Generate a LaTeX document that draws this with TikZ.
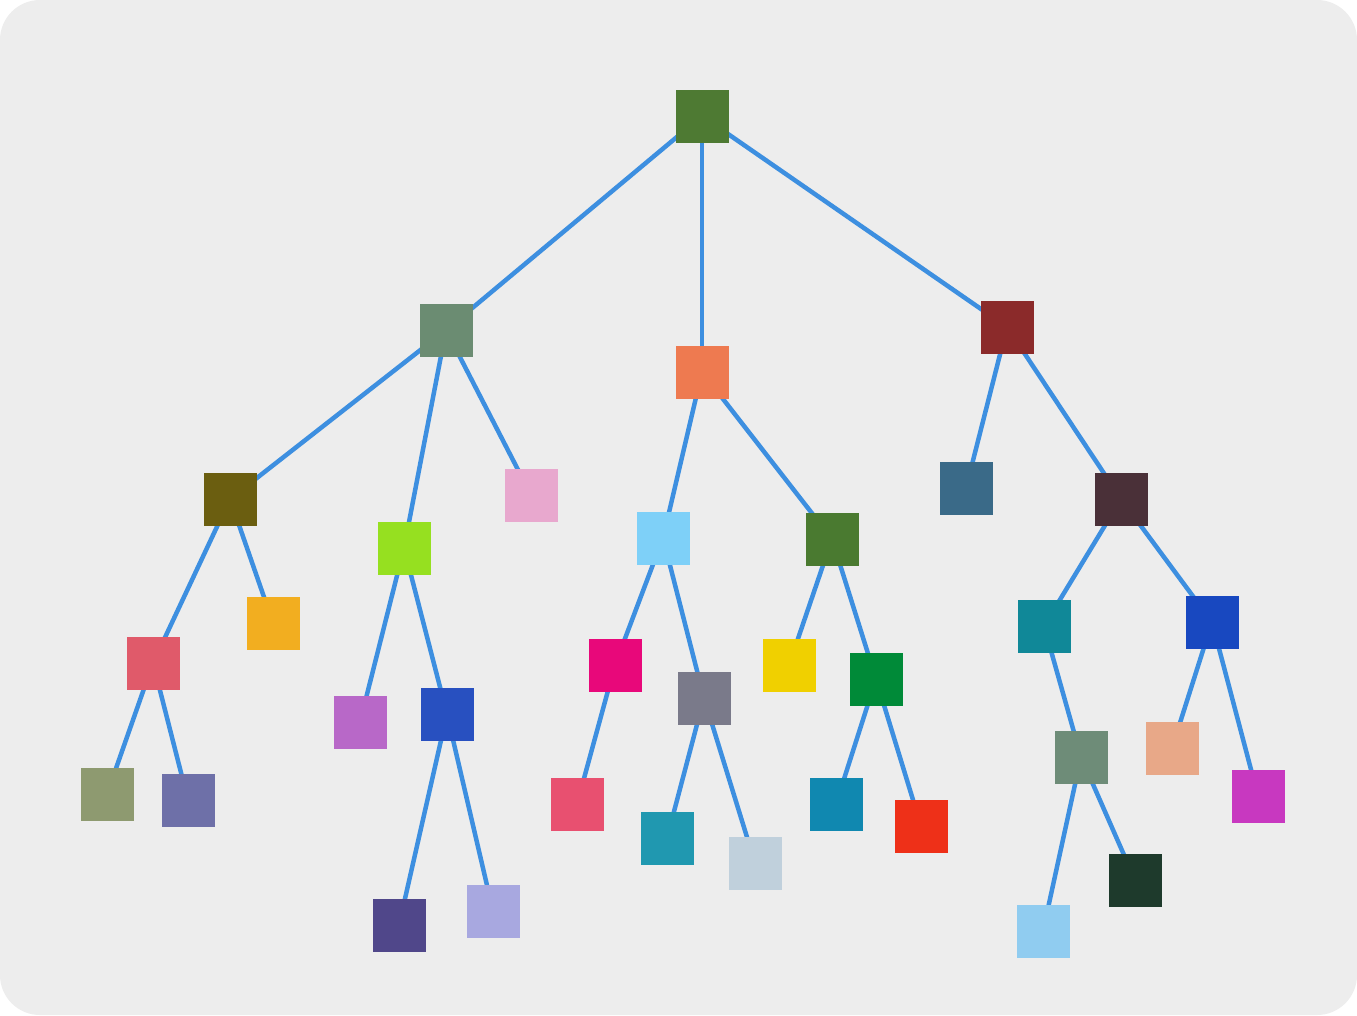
\documentclass[tikz,border=0pt]{standalone}
\pgfdeclarelayer{back}
\pgfdeclarelayer{edges}
\pgfsetlayers{back,edges,main}
\definecolor{bgc}{HTML}{EDEDED}
\definecolor{edgec}{HTML}{3D8FE0}
\tikzset{
  sq/.style={rectangle, minimum size=53pt, inner sep=0pt, draw=none},
  lnk/.style={draw=edgec, line width=4.5pt, line cap=round}
}
\begin{document}
\begin{tikzpicture}[x=1pt,y=-1pt]
\begin{pgfonlayer}{back}
\fill[white] (0,0) rectangle (1357,1015);
\fill[bgc, rounded corners=40pt] (0,0) rectangle (1357,1015);
\end{pgfonlayer}
\useasboundingbox (0,0) rectangle (1357,1015);
% nodes
\node[sq, fill={rgb,255:red,78;green,122;blue,51}] (r) at (702,116) {};
\node[sq, fill={rgb,255:red,107;green,140;blue,114}] (a) at (446,330) {};
\node[sq, fill={rgb,255:red,238;green,122;blue,80}] (b) at (702,372) {};
\node[sq, fill={rgb,255:red,139;green,42;blue,42}] (c) at (1007,327) {};
\node[sq, fill={rgb,255:red,107;green,94;blue,16}] (a1) at (230,499) {};
\node[sq, fill={rgb,255:red,150;green,224;blue,32}] (a2) at (404,548) {};
\node[sq, fill={rgb,255:red,232;green,168;blue,206}] (a3) at (531,495) {};
\node[sq, fill={rgb,255:red,224;green,90;blue,106}] (a1a) at (153,663) {};
\node[sq, fill={rgb,255:red,242;green,174;blue,32}] (a1b) at (273,623) {};
\node[sq, fill={rgb,255:red,142;green,154;blue,112}] (a1a1) at (107,794) {};
\node[sq, fill={rgb,255:red,110;green,112;blue,168}] (a1a2) at (188,800) {};
\node[sq, fill={rgb,255:red,184;green,104;blue,200}] (a2a) at (360,722) {};
\node[sq, fill={rgb,255:red,40;green,80;blue,192}] (a2b) at (447,714) {};
\node[sq, fill={rgb,255:red,80;green,71;blue,138}] (a2b1) at (399,925) {};
\node[sq, fill={rgb,255:red,168;green,168;blue,224}] (a2b2) at (493,911) {};
\node[sq, fill={rgb,255:red,126;green,208;blue,248}] (b1) at (663,538) {};
\node[sq, fill={rgb,255:red,74;green,122;blue,48}] (b2) at (832,539) {};
\node[sq, fill={rgb,255:red,232;green,8;blue,122}] (b1a) at (615,665) {};
\node[sq, fill={rgb,255:red,122;green,122;blue,138}] (b1b) at (704,698) {};
\node[sq, fill={rgb,255:red,232;green,80;blue,112}] (b1a1) at (577,804) {};
\node[sq, fill={rgb,255:red,32;green,152;blue,176}] (b1b1) at (667,838) {};
\node[sq, fill={rgb,255:red,192;green,208;blue,220}] (b1b2) at (755,863) {};
\node[sq, fill={rgb,255:red,240;green,208;blue,0}] (b2a) at (789,665) {};
\node[sq, fill={rgb,255:red,0;green,138;blue,56}] (b2b) at (876,679) {};
\node[sq, fill={rgb,255:red,16;green,136;blue,176}] (b2b1) at (836,804) {};
\node[sq, fill={rgb,255:red,238;green,48;blue,24}] (b2b2) at (921,826) {};
\node[sq, fill={rgb,255:red,58;green,106;blue,136}] (c1) at (966,488) {};
\node[sq, fill={rgb,255:red,74;green,48;blue,56}] (c2) at (1121,499) {};
\node[sq, fill={rgb,255:red,16;green,136;blue,152}] (c2a) at (1044,626) {};
\node[sq, fill={rgb,255:red,24;green,72;blue,192}] (c2b) at (1212,622) {};
\node[sq, fill={rgb,255:red,110;green,140;blue,120}] (c2a1) at (1081,757) {};
\node[sq, fill={rgb,255:red,144;green,204;blue,240}] (c2a1a) at (1043,931) {};
\node[sq, fill={rgb,255:red,30;green,58;blue,44}] (c2a1b) at (1135,880) {};
\node[sq, fill={rgb,255:red,232;green,168;blue,136}] (c2b1) at (1172,748) {};
\node[sq, fill={rgb,255:red,200;green,56;blue,192}] (c2b2) at (1258,796) {};
% edges
\begin{pgfonlayer}{edges}
\foreach \p/\c in {r/a,r/b,r/c,a/a1,a/a2,a/a3,a1/a1a,a1/a1b,a1a/a1a1,a1a/a1a2,
  a2/a2a,a2/a2b,a2b/a2b1,a2b/a2b2,b/b1,b/b2,b1/b1a,b1/b1b,b1a/b1a1,b1b/b1b1,b1b/b1b2,
  b2/b2a,b2/b2b,b2b/b2b1,b2b/b2b2,c/c1,c/c2,c2/c2a,c2/c2b,c2a/c2a1,c2a1/c2a1a,c2a1/c2a1b,
  c2b/c2b1,c2b/c2b2}
  \draw[lnk] (\p.center) -- (\c.center);
\end{pgfonlayer}
\end{tikzpicture}
\end{document}
